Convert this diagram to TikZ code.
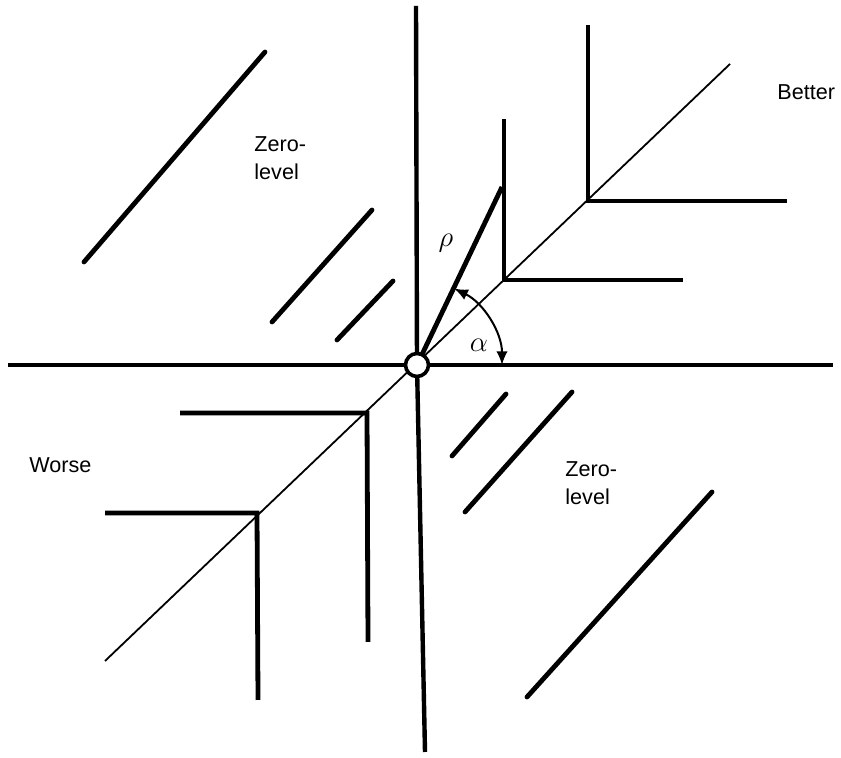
\documentclass[tikz,border=0pt]{standalone}
\usepackage{fontspec}
\setmainfont{Liberation Sans}
\usetikzlibrary{arrows.meta,positioning,calc}

\begin{document}
\begin{tikzpicture}[x=0.5pt,y=0.5pt]
  \tikzstyle{axis}=[line width=2.2pt]
  \tikzstyle{contour}=[line width=2.4pt]
  \tikzstyle{zero}=[line width=2.4pt,line cap=round]
  \tikzstyle{ray}=[line width=0.9pt]
  \tikzstyle{lbl}=[font=\fontsize{10.8}{14}\selectfont,align=left,inner sep=0pt]

  \useasboundingbox (0,0) rectangle (841,758);

  % axes and diagonal
  \draw[axis] (8,393) -- (833,393);
  \draw[axis] (416,752) -- (417,393) -- (425,6);
  \draw[ray] (105,97) -- (730,694);

  % better contours
  \draw[contour] (588,733) -- (588,557) -- (787,557);
  \draw[contour] (504,639) -- (504,478) -- (683,478);

  % worse contours
  \draw[contour] (180,345) -- (367,345) -- (368,116);
  \draw[contour] (105,245) -- (257,245) -- (258,58);

  % zero-level lines
  \draw[zero] (84,496) -- (265,706);
  \draw[zero] (272,436) -- (372,548);
  \draw[zero] (337,418) -- (393,477);
  \draw[zero] (452,302) -- (506,364);
  \draw[zero] (465,246) -- (572,366);
  \draw[zero] (527,61) -- (712,266);

  % vector and angle
  \coordinate (o) at (417,393);
  \coordinate (tip) at (502,571);
  \draw[line width=2.4pt] (o) -- (tip);
  \draw[line width=1pt,{Latex[length=2.4mm,width=2mm]}-{Latex[length=2.4mm,width=2mm]}]
    ([xshift=42.5pt]o) arc (0:64:42.5pt);
  \node[circle,draw,fill=white,line width=1.8pt,minimum size=11.5pt,inner sep=0pt] (origin) at (o) {};

  \node[font=\Large] (rho) at (446,515) {$\rho$};
  \node[font=\Large] (alpha) at (479,413) {$\alpha$};

  % labels
  \node[lbl,anchor=north west] (zeroul) at (254,622) {Zero-\\level};
  \node[lbl,anchor=north west] (zerolr) at (565,297) {Zero-\\level};
  \node[lbl,anchor=west] (better) at (777,666) {Better};
  \node[lbl,anchor=west] (worse) at (29,293) {Worse};
\end{tikzpicture}
\end{document}
